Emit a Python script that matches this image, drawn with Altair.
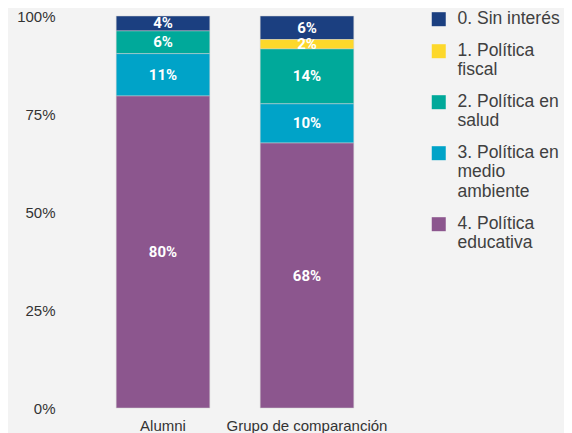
import altair as alt
import pandas as pd

grupos = ["Alumni", "Grupo de comparanción"]
categorias = [
    "0. Sin interés",
    "1. Política fiscal",
    "2. Política en salud",
    "3. Política en medio ambiente",
    "4. Política educativa",
]
leyenda_lineas = [
    ["0. Sin interés"],
    ["1. Política", "fiscal"],
    ["2. Política en", "salud"],
    ["3. Política en", "medio", "ambiente"],
    ["4. Política", "educativa"],
]
valores_alumni = [0.038, 0.0, 0.058, 0.108, 0.796]
valores_comparacion = [0.06, 0.024, 0.14, 0.10, 0.676]
colores = ["#1b3f80", "#fdd82b", "#00a99a", "#00a3c8", "#8c568e"]

FONT = "Arial"

rows = []
for g, vals in zip(grupos, [valores_alumni, valores_comparacion]):
    for i, (c, v) in enumerate(zip(categorias, vals)):
        if v > 0:
            rows.append({"grupo": g, "categoria": c, "ord": i, "valor": v})
df = pd.DataFrame(rows)

label_expr = ""
for c, lines in zip(categorias, leyenda_lineas):
    arr = "[" + ",".join("'" + s + "'" for s in lines) + "]"
    label_expr += f"datum.label == '{c}' ? {arr} : "
label_expr += "datum.label"

base = alt.Chart(df).transform_stack(
    stack="valor",
    as_=["y0", "y1"],
    groupby=["grupo"],
    sort=[alt.SortField("ord", order="descending")],
).transform_calculate(mid="(datum.y0 + datum.y1) / 2")

x_enc = alt.X(
    "grupo:N",
    sort=grupos,
    title=None,
    scale=alt.Scale(paddingInner=0.35, paddingOuter=0.175),
    axis=alt.Axis(
        labelAngle=0, ticks=False, domain=False, labelFontSize=15,
        labelColor="#333333", labelPadding=10, labelFont=FONT,
    ),
)

# square symbol shifted down so it lines up with the first label line
symbol_path = "M-1,0.35L1,0.35L1,2.35L-1,2.35Z"

bars = base.mark_bar(stroke="#d0d0d0", strokeWidth=0.5).encode(
    x=x_enc,
    y=alt.Y(
        "y0:Q",
        title=None,
        scale=alt.Scale(domain=[0, 1], nice=False),
        axis=alt.Axis(
            values=[0, 0.25, 0.5, 0.75, 1], format=".0%", grid=False,
            domain=False, ticks=False, labelFontSize=15, labelColor="#333333",
            labelPadding=36, labelFont=FONT,
        ),
    ),
    y2="y1:Q",
    color=alt.Color(
        "categoria:N",
        scale=alt.Scale(domain=categorias, range=colores),
        title=None,
        legend=alt.Legend(
            orient="none", legendX=339, legendY=-15,
            symbolType=symbol_path, symbolSize=196, symbolStrokeWidth=0,
            labelFontSize=17.5, labelColor="#404040", labelFont=FONT,
            labelExpr=label_expr, labelOffset=10, rowPadding=5,
            labelBaseline="top", labelLimit=200, padding=0,
        ),
    ),
)

texts = base.mark_text(
    color="white", fontWeight="bold", fontSize=15, font="Roboto", baseline="middle"
).encode(
    x=alt.X("grupo:N", sort=grupos),
    y=alt.Y("mid:Q"),
    text=alt.Text("valor:Q", format=".0%"),
)

chart = alt.layer(bars, texts).properties(
    width=288, height=392,
    background="#f3f3f3",
    autosize=alt.AutoSizeParams(type="none"),
    padding={"left": 83, "top": 8, "right": 185, "bottom": 25},
).configure_view(stroke=None)

chart.save("out.html", embed_options={"renderer": "svg", "actions": False})
